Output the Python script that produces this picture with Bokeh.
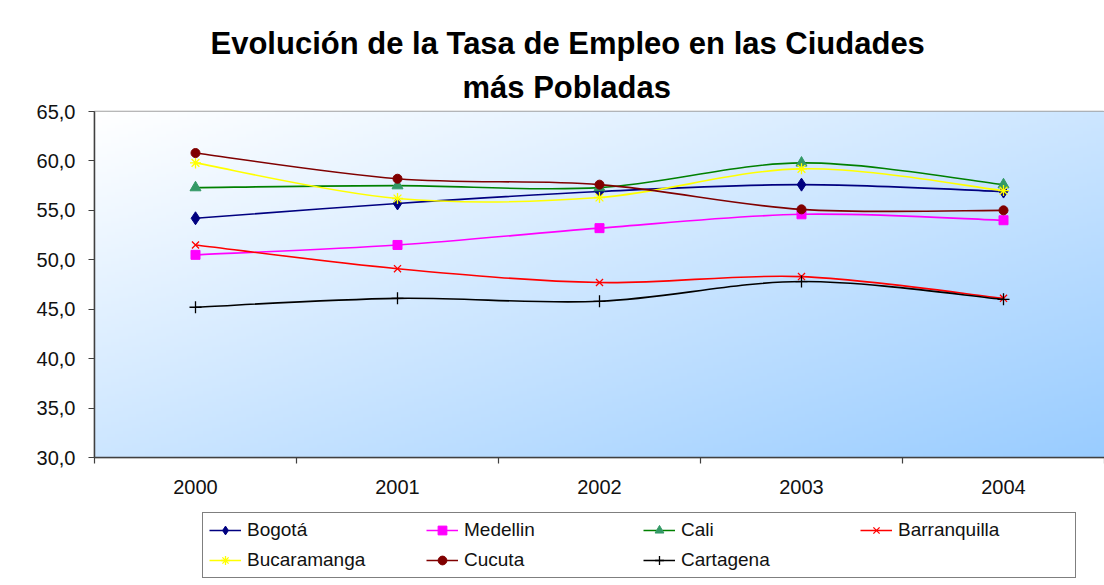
import numpy as np
from bokeh.plotting import figure
from bokeh.layouts import column
from bokeh.models import (FixedTicker, Legend, LegendItem, Title, Range1d)
from bokeh.embed import file_html
from bokeh.resources import INLINE

# ---------------- data ----------------
years = [2000, 2001, 2002, 2003, 2004]
x_tick_labels = ["2000", "2001", "2002", "2003", "2004"]
y_ticks = [30, 35, 40, 45, 50, 55, 60, 65]
y_tick_labels = ["30,0", "35,0", "40,0", "45,0", "50,0", "55,0", "60,0", "65,0"]

bogota = [54.2, 55.7, 56.9, 57.6, 56.9]
medellin = [50.5, 51.5, 53.2, 54.6, 54.0]
cali = [57.3, 57.5, 57.3, 59.8, 57.6]
barranquilla = [51.5, 49.1, 47.7, 48.3, 46.1]
bucaramanga = [59.8, 56.2, 56.3, 59.2, 57.0]
cucuta = [60.8, 58.2, 57.6, 55.1, 55.0]
cartagena = [45.2, 46.1, 45.8, 47.8, 46.0]

title_line1 = "Evolución de la Tasa de Empleo en las Ciudades"
title_line2 = "más Pobladas"

series = [
    ("Bogotá", bogota, "#000080", "#000080", "diamond", 13),
    ("Medellin", medellin, "#ff00ff", "#ff00ff", "square", 9),
    ("Cali", cali, "#008000", "#339966", "triangle", 11),
    ("Barranquilla", barranquilla, "#ff0000", "#ff0000", "x", 10),
    ("Bucaramanga", bucaramanga, "#ffff00", "#ffff00", "asterisk", 11),
    ("Cucuta", cucuta, "#800000", "#800000", "circle", 9),
    ("Cartagena", cartagena, "#000000", "#000000", "cross", 12),
]

FONT = "Liberation Sans"

# ---------------- main chart ----------------
p = figure(frame_width=1010, frame_height=346,
           x_range=Range1d(years[0] - 0.5, years[-1] + 0.5),
           y_range=Range1d(y_ticks[0], y_ticks[-1]),
           output_backend="svg", toolbar_location=None,
           min_border_left=94, min_border_right=0, min_border_top=111,
           min_border_bottom=55)
p.title = Title(text=title_line1, align="left", offset=116,
                text_font=FONT, text_font_style="bold", text_font_size="31px",
                text_color="black", standoff=0)
p.add_layout(Title(text=title_line2, align="left", offset=368,
                   text_font=FONT, text_font_style="bold", text_font_size="31px",
                   text_color="black", standoff=14), "above")
p.background_fill_color = "white"
p.border_fill_color = "white"
p.outline_line_color = "#a0a0a0"
p.outline_line_width = 1.5
p.xgrid.visible = False
p.ygrid.visible = False

# gradient background of plot area (style only)
ny, nx = 120, 240
u = np.linspace(0, 1, nx)[None, :]
v = np.linspace(0, 1, ny)[:, None]
t = (u + (1 - v)) / 2.0
c0 = np.array([255, 255, 255], dtype=float)
c1 = np.array([0x99, 0xcc, 0xff], dtype=float)
img = np.empty((ny, nx), dtype=np.uint32)
view = img.view(dtype=np.uint8).reshape((ny, nx, 4))
for k in range(3):
    view[:, :, k] = np.round(c0[k] + (c1[k] - c0[k]) * t).astype(np.uint8)
view[:, :, 3] = 255
p.image_rgba(image=[img], x=years[0] - 0.5, y=y_ticks[0],
             dw=len(years), dh=y_ticks[-1] - y_ticks[0])


def smooth_controls(xs, ys):
    n = len(xs)
    out = {k: [] for k in ("x0", "y0", "x1", "y1", "cx0", "cy0", "cx1", "cy1")}
    for i in range(n - 1):
        a = max(i - 1, 0)
        b = min(i + 2, n - 1)
        out["x0"].append(xs[i]); out["y0"].append(ys[i])
        out["x1"].append(xs[i + 1]); out["y1"].append(ys[i + 1])
        out["cx0"].append(xs[i] + (xs[i + 1] - xs[a]) / 6.0)
        out["cy0"].append(ys[i] + (ys[i + 1] - ys[a]) / 6.0)
        out["cx1"].append(xs[i + 1] - (xs[b] - xs[i]) / 6.0)
        out["cy1"].append(ys[i + 1] - (ys[b] - ys[i]) / 6.0)
    return out


def add_markers(fig, xs, ys, mc, marker, size):
    if marker in ("x", "asterisk", "cross"):
        return fig.scatter(xs, ys, marker=marker, size=size,
                           line_color=mc, line_width=1.3, fill_color=None)
    return fig.scatter(xs, ys, marker=marker, size=size,
                       line_color=mc, fill_color=mc)


for name, vals, lc, mc, marker, size in series:
    c = smooth_controls(years, vals)
    p.bezier(x0=c["x0"], y0=c["y0"], x1=c["x1"], y1=c["y1"],
             cx0=c["cx0"], cy0=c["cy0"], cx1=c["cx1"], cy1=c["cy1"],
             line_color=lc, line_width=1.6)
    add_markers(p, years, vals, mc, marker, size)

# axes
xa = p.xaxis[0]
xa.ticker = FixedTicker(ticks=years, minor_ticks=[y - 0.5 for y in years] + [years[-1] + 0.5])
xa.major_label_overrides = {yr: lab for yr, lab in zip(years, x_tick_labels)}
xa.major_tick_line_color = None
xa.major_tick_out = 0
xa.major_tick_in = 0
xa.minor_tick_out = 6
xa.minor_tick_in = 0
xa.minor_tick_line_color = "#404040"
xa.minor_tick_line_width = 1.2
xa.axis_line_color = "#404040"
xa.axis_line_width = 1.5
xa.major_label_standoff = 16
xa.major_label_text_font = FONT
xa.major_label_text_font_size = "20px"
xa.major_label_text_color = "#111111"

ya = p.yaxis[0]
ya.ticker = FixedTicker(ticks=y_ticks, minor_ticks=[])
ya.major_label_overrides = {tk: lab for tk, lab in zip(y_ticks, y_tick_labels)}
ya.major_tick_out = 6
ya.major_tick_in = 0
ya.major_tick_line_color = "#404040"
ya.major_tick_line_width = 1.2
ya.minor_tick_line_color = None
ya.axis_line_color = "#404040"
ya.axis_line_width = 1.5
ya.major_label_standoff = 13
ya.major_label_text_font = FONT
ya.major_label_text_font_size = "20px"
ya.major_label_text_color = "#111111"

# ---------------- legend strip (series drawn off-range, only legend visible) ----
pl = figure(width=1104, height=73,
            x_range=Range1d(years[0] - 0.5, years[-1] + 0.5), y_range=Range1d(0, 1),
            output_backend="svg", toolbar_location=None,
            x_axis_location=None, y_axis_location=None,
            min_border_left=0, min_border_right=0, min_border_top=0, min_border_bottom=0)
pl.title = None
pl.xgrid.visible = False
pl.ygrid.visible = False
pl.outline_line_color = None
pl.background_fill_color = "white"
pl.border_fill_color = "white"

items = []
for name, vals, lc, mc, marker, size in series:
    r_line = pl.line(x=years, y=vals, line_color=lc, line_width=1.6)
    r_pts = add_markers(pl, years, vals, mc, marker, size)
    items.append(LegendItem(label=name, renderers=[r_line, r_pts]))

legend = Legend(items=items, orientation="horizontal", ncols=4,
                location=(108, 7), margin=0,
                border_line_color="black", border_line_width=1.2,
                background_fill_color="white", background_fill_alpha=1,
                label_text_font=FONT, label_text_font_size="19px",
                label_text_color="#111111",
                glyph_width=32, glyph_height=22, label_height=22,
                label_width=171, label_standoff=6, spacing=8, padding=6)
pl.add_layout(legend, "center")

open("out.html", "w").write(file_html(column(p, pl, spacing=0), INLINE))
